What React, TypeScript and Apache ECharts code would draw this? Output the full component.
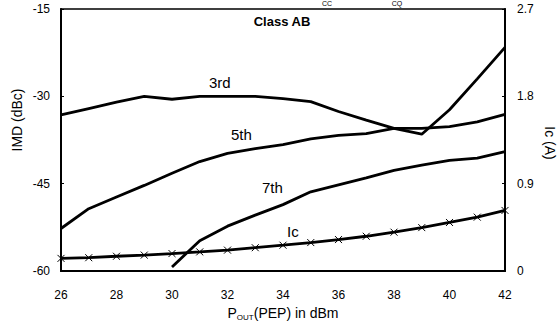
import React, { useEffect, useRef } from "react";
import * as echarts from "echarts";

const pout = [26, 27, 28, 29, 30, 31, 32, 33, 34, 35, 36, 37, 38, 39, 40, 41, 42];
const imd3 = [-33.2, -32.1, -31.0, -30.0, -30.5, -30.0, -30.0, -30.0, -30.4, -30.9, -32.6, -34.1, -35.5, -36.5, -32.3, -27.0, -21.6];
const imd5 = [-52.7, -49.3, -47.3, -45.3, -43.2, -41.2, -39.8, -39.0, -38.3, -37.3, -36.7, -36.4, -35.5, -35.5, -35.2, -34.4, -33.1];
const pout7 = [30, 31, 32, 33, 34, 35, 36, 37, 38, 39, 40, 41, 42];
const imd7 = [-59.3, -54.8, -52.3, -50.4, -48.6, -46.4, -45.2, -44.0, -42.7, -41.8, -41.0, -40.6, -39.5];
const ic = [0.13, 0.137, 0.152, 0.164, 0.18, 0.197, 0.215, 0.24, 0.266, 0.293, 0.324, 0.358, 0.4, 0.447, 0.5, 0.555, 0.624];
const xTicks = [26, 42, 2];
const leftTicks = [-60, -15, 15];
const rightTicks = [0, 2.7, 0.9];

const FONT = "Liberation Sans, Arial, sans-serif";

export default function App() {
  const ref = useRef<HTMLDivElement>(null);
  useEffect(() => {
    if (!ref.current) return;
    const chart = echarts.init(ref.current, null, { renderer: "svg" });
    const pair = (xs: number[], ys: number[]) => xs.map((x, i) => [x, ys[i]]);
    const lineStyle = { color: "#000", width: 2.8 };
    const lbl = (text: string, left: number, top: number) => ({
      type: "text",
      left,
      top,
      style: { text, font: "15px " + FONT, fill: "#000" },
    });
    chart.setOption({
      animation: false,
      backgroundColor: "#fff",
      textStyle: { fontFamily: FONT, color: "#000" },
      grid: {
        left: 61,
        right: 53,
        top: 9,
        bottom: 56,
        containLabel: false,
        outerBoundsMode: "none",
        show: true,
        borderColor: "#000",
        borderWidth: 1.5,
        backgroundColor: "transparent",
      },
      xAxis: {
        type: "value",
        min: xTicks[0],
        max: xTicks[1],
        interval: xTicks[2],
        axisLine: { lineStyle: { color: "#000", width: 2 } },
        axisTick: { show: false },
        splitLine: { show: false },
        axisLabel: { color: "#000", fontSize: 12, fontFamily: FONT, margin: 18 },
        name: "{a|P}{s|OUT}{a|(PEP) in dBm}",
        nameLocation: "middle",
        nameGap: 31,
        nameTextStyle: {
          rich: {
            a: { fontSize: 14, fontFamily: FONT, color: "#000" },
            s: { fontSize: 8, fontFamily: FONT, color: "#000", verticalAlign: "bottom", padding: [9, 0, 0, 0] },
          },
        },
      },
      yAxis: [
        {
          type: "value",
          min: leftTicks[0],
          max: leftTicks[1],
          interval: leftTicks[2],
          position: "left",
          axisLine: { show: true, lineStyle: { color: "#000", width: 2 } },
          axisTick: { show: true, inside: true, length: 3, lineStyle: { color: "#000" } },
          splitLine: { show: false },
          axisLabel: { color: "#000", fontSize: 12, fontFamily: FONT, margin: 11 },
        },
        {
          type: "value",
          min: rightTicks[0],
          max: rightTicks[1],
          interval: rightTicks[2],
          position: "right",
          axisLine: { show: true, lineStyle: { color: "#000", width: 2 } },
          axisTick: { show: true, inside: true, length: 3, lineStyle: { color: "#000" } },
          splitLine: { show: false },
          axisLabel: { color: "#000", fontSize: 12, fontFamily: FONT, margin: 12, formatter: (v: number) => String(Math.round(v * 10) / 10) },
        },
      ],
      graphic: [
        { type: "text", x: 282, y: 21, style: { text: "Class AB", font: "bold 13px " + FONT, fill: "#000", align: "center", verticalAlign: "middle" } },
        { type: "text", x: 17, y: 120, rotation: Math.PI / 2, style: { text: "IMD (dBc)", font: "14px " + FONT, fill: "#000", align: "center", verticalAlign: "middle" } },
        { type: "text", x: 550, y: 143, rotation: -Math.PI / 2, style: { text: "Ic (A)", font: "14px " + FONT, fill: "#000", align: "center", verticalAlign: "middle" } },
        lbl("3rd", 209, 75),
        lbl("5th", 231, 127),
        lbl("7th", 262, 180),
        lbl("Ic", 287, 224),
        { type: "text", x: 327, y: 0, style: { text: "CC", font: "7px " + FONT, fill: "#000", align: "center", verticalAlign: "top" } },
        { type: "text", x: 397, y: 0, style: { text: "CQ", font: "7px " + FONT, fill: "#000", align: "center", verticalAlign: "top" } },
      ],
      series: [
        { type: "line", yAxisIndex: 0, data: pair(pout, imd3), showSymbol: false, lineStyle, itemStyle: { color: "#000" } },
        { type: "line", yAxisIndex: 0, data: pair(pout, imd5), showSymbol: false, lineStyle, itemStyle: { color: "#000" } },
        { type: "line", yAxisIndex: 0, data: pair(pout7, imd7), showSymbol: false, lineStyle, itemStyle: { color: "#000" } },
        {
          type: "line",
          yAxisIndex: 1,
          data: pair(pout, ic),
          symbol: "path://M0,0L10,10M10,0L0,10",
          symbolSize: 7,
          showSymbol: true,
          lineStyle,
          itemStyle: { color: "#fff", borderColor: "#000", borderWidth: 1 },
        },
      ],
    });
    return () => chart.dispose();
  }, []);
  return <div ref={ref} style={{ width: 558, height: 327, position: "absolute", left: 0, top: 0 }} />;
}
